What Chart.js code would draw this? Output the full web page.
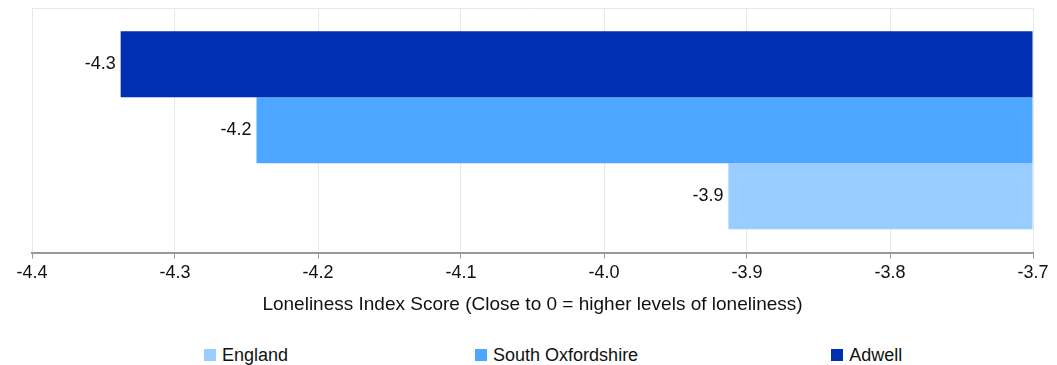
<!DOCTYPE html>
<html>
<head>
<meta charset="utf-8">
<script src="https://cdn.jsdelivr.net/npm/chart.js@4.4.1/dist/chart.umd.min.js"></script>
<style>
  body { margin: 0; background: #fff; font-family: "Liberation Sans", Arial, sans-serif; }
  #wrap { position: relative; width: 1057px; height: 330px; }
  #legend { position: absolute; left: 204px; top: 344px; display: flex; white-space: nowrap;
            font-size: 18px; line-height: 22px; color: #111; }
  #legend .item { display: flex; align-items: center; }
  #legend .item:nth-child(1) { margin-right: 187px; }
  #legend .item:nth-child(2) { margin-right: 193px; }
  #legend .box { width: 12px; height: 12px; margin-right: 6px; }
</style>
</head>
<body>
<div id="wrap"><canvas id="myBar"></canvas></div>
<div id="legend"></div>
<script>
// data
const categories = ['Loneliness'];
const seriesNames = ['Adwell', 'South Oxfordshire', 'England'];
const seriesValues = [-4.338, -4.243, -3.913];
const seriesColors = ['#002fb1', '#4da6ff', '#99ccff'];
const tickMin = -4.4;
const tickMax = -3.7;
const axisTitle = 'Loneliness Index Score (Close to 0 = higher levels of loneliness)';

const fontFamily = '"Liberation Sans", Arial, sans-serif';

// value labels to the left of each bar
const barLabels = {
    id: 'barLabels',
    afterDatasetsDraw(chart) {
        const ctx = chart.ctx;
        ctx.save();
        ctx.font = '18px ' + fontFamily;
        ctx.fillStyle = '#111';
        ctx.textAlign = 'right';
        ctx.textBaseline = 'middle';
        chart.data.datasets.forEach((ds, i) => {
            chart.getDatasetMeta(i).data.forEach((bar, j) => {
                ctx.fillText(ds.data[j].toFixed(1), bar.x - 5, bar.y);
            });
        });
        ctx.restore();
    }
};

function initBarChart() {
    const ctx = document.getElementById('myBar').getContext('2d');
    const chart = new Chart(ctx, {
        type: 'bar',
        data: {
            labels: categories,
            datasets: seriesNames.map((name, i) => ({
                label: name,
                data: [seriesValues[i]],
                backgroundColor: seriesColors[i],
                base: tickMax,
                borderWidth: 0,
                categoryPercentage: 0.81,
                barPercentage: 1
            }))
        },
        options: {
            indexAxis: 'y',
            responsive: true,
            maintainAspectRatio: false,
            animation: false,
            layout: { padding: { left: 32, right: 24, top: 8, bottom: 10 } },
            plugins: {
                legend: { display: false },
                tooltip: { enabled: false }
            },
            scales: {
                x: {
                    min: tickMin,
                    max: tickMax,
                    ticks: {
                        stepSize: 0.1,
                        color: '#111',
                        font: { size: 18, family: fontFamily },
                        callback: v => v.toFixed(1),
                        padding: 4
                    },
                    grid: { color: '#e8e8e8', tickColor: '#999', tickLength: 6 },
                    border: { color: '#999', width: 2 },
                    title: {
                        display: true,
                        text: axisTitle,
                        color: '#111',
                        font: { size: 19, family: fontFamily },
                        padding: { top: 5 }
                    }
                },
                y: {
                    ticks: { display: false },
                    grid: { color: '#e8e8e8', drawTicks: false },
                    border: { display: false }
                }
            }
        },
        plugins: [barLabels]
    });

    // legend, reversed order like the original
    const legend = document.getElementById('legend');
    chart.data.datasets.slice().reverse().forEach(ds => {
        const item = document.createElement('div');
        item.className = 'item';
        item.innerHTML = '<span class="box" style="background:' + ds.backgroundColor + '"></span>' + ds.label;
        legend.appendChild(item);
    });
}

document.addEventListener('DOMContentLoaded', initBarChart);
</script>
</body>
</html>
